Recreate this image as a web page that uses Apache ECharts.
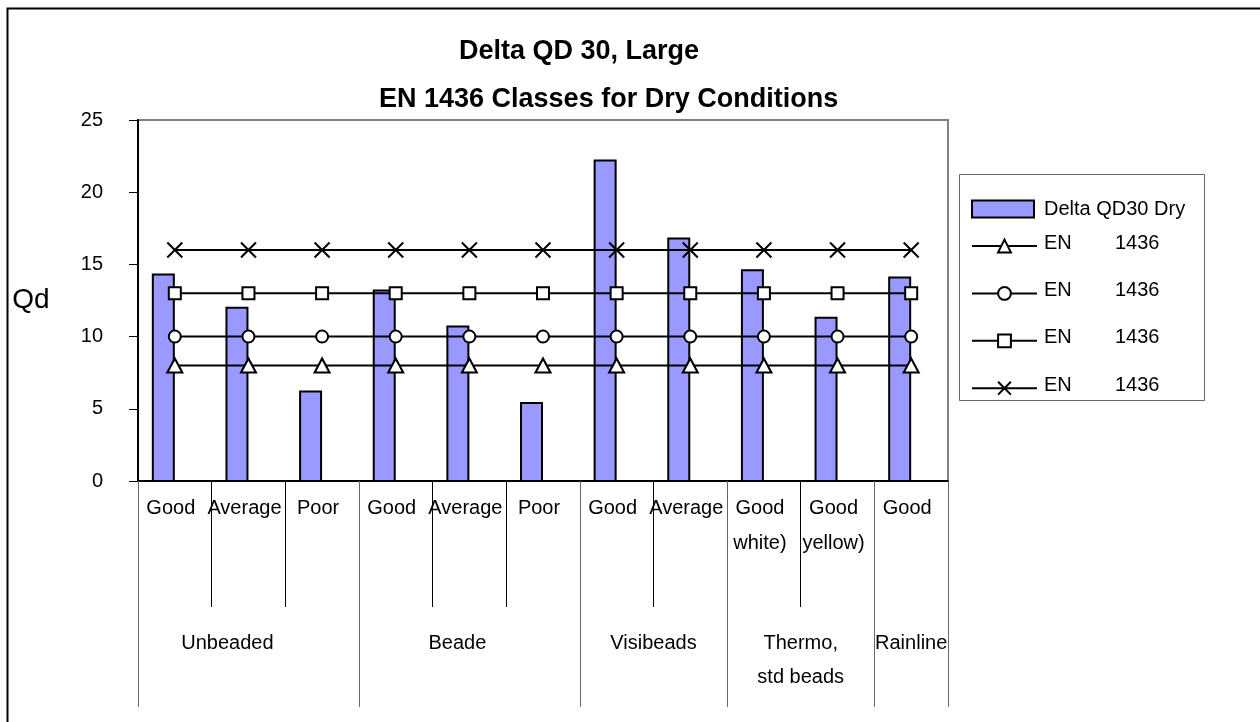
<!DOCTYPE html>
<html>
<head>
<meta charset="utf-8">
<title>Delta QD 30, Large</title>
<script src="https://cdn.jsdelivr.net/npm/echarts@6/dist/echarts.min.js"></script>
<style>
  html, body { margin: 0; padding: 0; background: #fff; }
  #chart { width: 1260px; height: 722px; }
</style>
</head>
<body>
<div id="chart"></div>
<script>
// ---- data ----
const conditionLabels = ['Good', 'Average', 'Poor', 'Good', 'Average', 'Poor',
  'Good', 'Average', 'Good\nwhite)', 'Good\nyellow)', 'Good'];
const groupNames = ['Unbeaded', 'Beade', 'Visibeads', 'Thermo,\nstd beads', 'Rainline'];
const groupSizes = [3, 3, 2, 2, 1];

const qd30Dry = [14.3, 12.0, 6.2, 13.2, 10.7, 5.4, 22.2, 16.8, 14.6, 11.3, 14.1];
const classQd8  = [8, 8, 8, 8, 8, 8, 8, 8, 8, 8, 8];
const classQd10 = [10, 10, 10, 10, 10, 10, 10, 10, 10, 10, 10];
const classQd13 = [13, 13, 13, 13, 13, 13, 13, 13, 13, 13, 13];
const classQd16 = [16, 16, 16, 16, 16, 16, 16, 16, 16, 16, 16];

const yMin = 0, yMax = 25, yStep = 5;
const barName = 'Delta QD30 Dry';
const classNames = ['EN 1436 Qd8', 'EN 1436 Qd10', 'EN 1436 Qd13', 'EN 1436 Qd16'];
const classLabelParts = ['EN', '1436'];
const titleLines = ['Delta QD 30, Large', 'EN 1436 Classes for Dry Conditions'];
const yName = 'Qd';

// ---- group axis: one point per half category, so group centres and edges land on points ----
const groupPointLabels = [];
const groupEdgePoints = new Set();
(function () {
  const total = groupSizes.reduce((a, b) => a + b, 0);
  for (let i = 0; i <= total * 2; i++) groupPointLabels.push('');
  let start = 0;
  groupSizes.forEach((size, g) => {
    groupEdgePoints.add(start * 2);
    groupPointLabels[start * 2 + size] = groupNames[g];
    start += size;
  });
  groupEdgePoints.add(start * 2);
})();

const FONT = '"Liberation Sans", Arial, Helvetica, sans-serif';
const labelStyleBase = { fontFamily: FONT, fontSize: 20, color: '#000', lineHeight: 34 };

const chart = echarts.init(document.getElementById('chart'), null, { renderer: 'canvas' });

const lineSeries = (name, data, symbol, size) => ({
  name: name,
  type: 'line',
  xAxisIndex: 0,
  yAxisIndex: 0,
  data: data,
  symbol: symbol,
  symbolSize: size,
  showSymbol: true,
  lineStyle: { color: '#000', width: 2 },
  itemStyle: { color: '#fff', borderColor: '#000', borderWidth: 2 },
  emphasis: { disabled: true },
  z: 3
});

chart.setOption({
  animation: false,
  backgroundColor: '#fff',
  title: [
    { text: titleLines[0], left: 459, top: 38, padding: 0,
      textStyle: { fontFamily: FONT, fontSize: 27, fontWeight: 'bold', color: '#000' } },
    { text: titleLines[1], left: 379, top: 86, padding: 0,
      textStyle: { fontFamily: FONT, fontSize: 27, fontWeight: 'bold', color: '#000' } }
  ],
  graphic: [
    { type: 'rect', left: 5, top: 6, silent: true, z: -10,
      shape: { width: 1400, height: 900 },
      style: { fill: 'none', stroke: '#000', lineWidth: 2 } },
    { type: 'rect', left: 959, top: 174, silent: true, z: -5,
      shape: { width: 245, height: 226 },
      style: { fill: '#fff', stroke: '#666', lineWidth: 1 } }
  ],
  legend: [
    {
      data: [{ name: barName, icon: 'rect',
        itemStyle: { color: '#9999FF', borderColor: '#000', borderWidth: 2 } }],
      left: 971, top: 199, padding: 0,
      orient: 'vertical',
      itemWidth: 62, itemHeight: 17,
      selectedMode: false,
      textStyle: { fontFamily: FONT, fontSize: 20, color: '#000', padding: [0, 0, 4, 5] }
    },
    {
      data: classNames,
      left: 971, top: 233, padding: 0,
      orient: 'vertical',
      itemWidth: 65, itemHeight: 16, itemGap: 27,
      selectedMode: false,
      formatter: () => '{a|' + classLabelParts[0] + '}{b|' + classLabelParts[1] + '}',
      textStyle: {
        fontFamily: FONT, fontSize: 20, color: '#000', padding: [0, 0, 6, 2],
        rich: {
          a: { fontFamily: FONT, fontSize: 20, color: '#000', width: 71 },
          b: { fontFamily: FONT, fontSize: 20, color: '#000' }
        }
      }
    }
  ],
  grid: {
    left: 138, right: 312, top: 120, bottom: 241,
    show: true, borderColor: '#808080', borderWidth: 2, backgroundColor: 'transparent'
  },
  xAxis: [
    {
      type: 'category',
      position: 'bottom',
      data: conditionLabels,
      boundaryGap: true,
      axisLine: { show: true, lineStyle: { color: '#000', width: 2 } },
      axisTick: { show: true, interval: 0, length: 126, lineStyle: { color: '#000', width: 1 } },
      axisLabel: Object.assign({}, labelStyleBase, {
        interval: 0, margin: 10, lineHeight: 35, padding: [0, 8, 0, 0]
      }),
      splitLine: { show: false }
    },
    {
      type: 'category',
      position: 'bottom',
      data: groupPointLabels,
      boundaryGap: false,
      axisLine: { show: false },
      axisTick: {
        show: true, length: 226,
        interval: (idx) => groupEdgePoints.has(idx),
        lineStyle: { color: '#666', width: 1 }
      },
      axisLabel: Object.assign({}, labelStyleBase, {
        interval: 0, margin: 145,
        formatter: (v) => {
          if (v === groupNames[0]) return '{u|' + v + '}';
          if (v === groupNames[1]) return '{b|' + v + '}';
          return v;
        },
        rich: {
          u: { fontFamily: FONT, fontSize: 20, color: '#000', lineHeight: 34, padding: [0, 42, 0, 0] },
          b: { fontFamily: FONT, fontSize: 20, color: '#000', lineHeight: 34, padding: [0, 24, 0, 0] }
        }
      }),
      splitLine: { show: false }
    }
  ],
  yAxis: {
    type: 'value',
    min: yMin, max: yMax, interval: yStep,
    name: yName,
    nameLocation: 'middle',
    nameRotate: 0,
    nameGap: 107,
    nameTextStyle: { fontFamily: FONT, fontSize: 28, color: '#000', align: 'center',
      verticalAlign: 'middle', padding: [0, 0, 34, 0] },
    axisLine: { show: true, lineStyle: { color: '#000', width: 2 } },
    axisTick: { show: true, inside: false, length: 9, lineStyle: { color: '#000', width: 1 } },
    axisLabel: { fontFamily: FONT, fontSize: 20, color: '#000', margin: 35, padding: [0, 0, 8, 0] },
    splitLine: { show: false }
  },
  series: [
    {
      name: barName,
      type: 'custom',
      xAxisIndex: 0,
      yAxisIndex: 0,
      data: qd30Dry.map((v, i) => [i, v]),
      encode: { x: 0, y: 1 },
      itemStyle: { color: '#9999FF', borderColor: '#000', borderWidth: 2 },
      renderItem: (params, api) => {
        const top = api.coord([api.value(0), api.value(1)]);
        const base = api.coord([api.value(0), 0]);
        return {
          type: 'rect',
          shape: { x: top[0] - 22, y: top[1], width: 21, height: base[1] - top[1] },
          style: { fill: '#9999FF', stroke: '#000', lineWidth: 2 }
        };
      },
      z: 2
    },
    lineSeries(classNames[0], classQd8, 'triangle', [15, 14]),
    lineSeries(classNames[1], classQd10, 'circle', 12),
    lineSeries(classNames[2], classQd13, 'rect', 12),
    lineSeries(classNames[3], classQd16, 'path://M0 0L16 16M16 0L0 16', 15)
  ]
});
</script>
</body>
</html>
